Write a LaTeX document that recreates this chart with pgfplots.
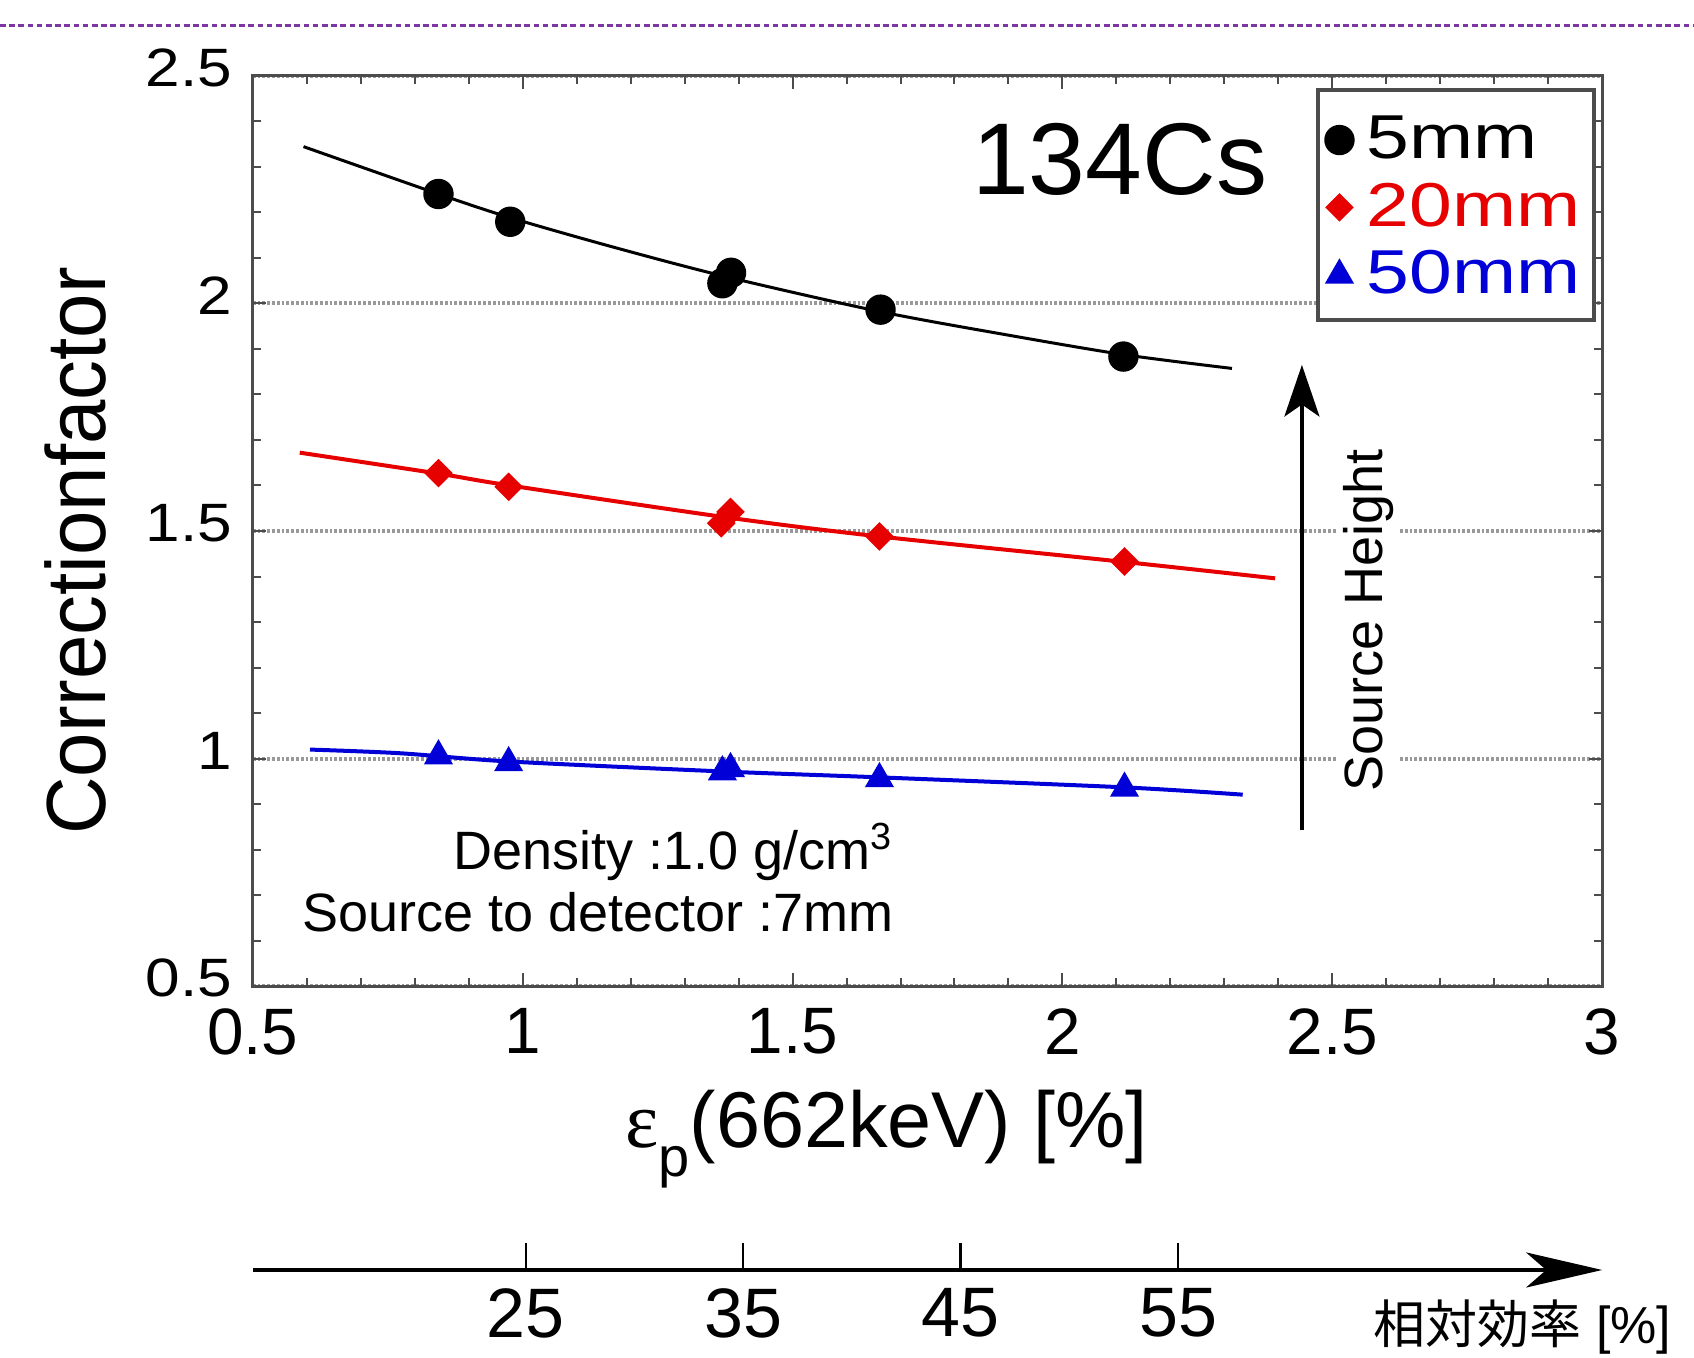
\documentclass[border=0pt]{standalone}
\usepackage{pgfplots}
\pgfplotsset{compat=1.18}
\usepackage{pgfplotstable}
\usepackage{graphicx}
\usepackage{fontspec}
\setmainfont{Liberation Sans}
\newfontfamily\cjkfont{Noto Sans CJK JP}
\newfontfamily\greekfont{Liberation Serif}
\usetikzlibrary{arrows.meta}

\definecolor{cfred}{RGB}{230,0,0}
\definecolor{cfblue}{RGB}{0,0,215}
\definecolor{cfpurple}{RGB}{125,55,165}
\newcommand{\fs}[1]{\fontsize{#1}{#1}\selectfont}

% Measured correction factors, x = peak efficiency at 662 keV [%]
\pgfplotstableread{
x     y
0.844 2.240
0.977 2.179
1.370 2.044
1.386 2.067
1.663 1.986
2.113 1.883
}\hfive
\pgfplotstableread{
x     y
0.844 1.627
0.974 1.597
1.368 1.517
1.385 1.542
1.661 1.488
2.115 1.433
}\htwenty
\pgfplotstableread{
x     y
0.844 1.006
0.974 0.991
1.370 0.971
1.385 0.978
1.661 0.956
2.115 0.935
}\hfifty

% Fitted curves
\pgfplotstableread{
x     y
0.594 2.344
0.844 2.240
0.977 2.188
1.169 2.123
1.378 2.058
1.661 1.982
1.900 1.930
2.115 1.887
2.314 1.857
}\fitfive
\pgfplotstableread{
x     y
0.587 1.672
0.844 1.626
0.976 1.600
1.377 1.530
1.661 1.488
2.115 1.432
2.394 1.396
}\fittwenty
\pgfplotstableread{
x     y
0.606 1.020
0.772 1.012
0.973 0.994
1.370 0.972
1.661 0.959
2.115 0.937
2.334 0.921
}\fitfifty

\begin{document}
\begin{tikzpicture}
\path[use as bounding box] (-63.2pt,-92.9pt) rectangle (360.3pt,246.6pt);
\clip (-63.2pt,-92.9pt) rectangle (360.3pt,246.6pt);

% dashed rule along the top
\draw[cfpurple, line width=0.6pt, dash pattern=on 1.4pt off 0.9pt] (-63.2pt,240.2pt) -- (360.3pt,240.2pt);

\begin{axis}[
  at={(0pt,0pt)}, anchor=south west,
  scale only axis, width=337.35pt, height=227.7pt,
  xmin=0.5, xmax=3, ymin=0.5, ymax=2.5,
  xtick={0.5,1,1.5,2,2.5,3}, ytick={0.5,1,1.5,2,2.5},
  minor x tick num=4, minor y tick num=4,
  tick align=inside,
  major tick length=3.4pt, minor tick length=2pt,
  axis line style={black!70, line width=0.7pt},
  every tick/.style={black!70, line width=0.5pt},
  ymajorgrids,
  major grid style={black!40, dash pattern=on 0.7pt off 0.5pt, line width=1pt},
  /pgf/number format/assume math mode=true,
  xticklabel style={font=\fs{16.4}, inner sep=0pt, anchor=north, yshift=-5.4pt},
  yticklabel={\scalebox{1.15}[1]{\pgfmathprintnumber{\tick}}},
  yticklabel style={font=\fs{13.5}, inner sep=0pt, anchor=east, xshift=-5pt, yshift=2pt},
  xlabel={{\greekfont ε}\raisebox{-7.3pt}{\fs{14}p}(662keV) [\%]},
  xlabel style={font=\fs{19.8}, at={(axis description cs:0.4696,-0.1766)}, anchor=base, inner sep=0pt},
  ylabel={\scalebox{0.95}[1]{Correctionfactor}},
  ylabel style={font=\fs{21}, at={(axis description cs:-0.1313,0.478)}, anchor=center, inner sep=0pt},
  legend style={at={(rel axis cs:0.7896,0.9845)}, anchor=north west, draw=none, fill=none,
    inner xsep=1.5pt, inner ysep=6.3pt, row sep=4.6pt, font=\fs{15.5},
    nodes={inner sep=0pt}, /tikz/every odd column/.style={column sep=3.2pt}},
  legend cell align=left,
  legend image code/.code={\draw[#1] plot coordinates {(3.6pt,0pt)};},
]
% legend frame
\draw[black!70, line width=1pt, fill=white] (rel axis cs:0.7896,0.732) rectangle (rel axis cs:0.9936,0.9845);

\addplot[black, line width=0.75pt, smooth, forget plot] table {\fitfive};
\addplot[cfred, line width=1pt, smooth, forget plot] table {\fittwenty};
\addplot[cfblue, line width=1pt, smooth, forget plot] table {\fitfifty};

\addplot[only marks, mark=*, mark size=3.6pt, black] table {\hfive};
\addlegendentry{\scalebox{1.24}[1]{5mm}}
\addplot[only marks, mark=square*, mark size=2.33pt, mark options={rotate=45}, cfred] table {\htwenty};
\addlegendentry{\textcolor{cfred}{\scalebox{1.24}[1]{20mm}}}
\addplot[only marks, mark=triangle*, mark size=3.8pt, cfblue] table {\hfifty};
\addlegendentry{\textcolor{cfblue}{\scalebox{1.24}[1]{50mm}}}

\node[font=\fs{25.5}] at (axis cs:2.106,2.315) {134Cs};
\node[font=\fs{13.5}, anchor=base east, inner sep=0pt] at (axis cs:1.689,0.7556) {Density :1.0 g/cm\textsuperscript{3}};
\node[font=\fs{13.5}, anchor=base east, inner sep=0pt] at (axis cs:1.689,0.620) {Source to detector :7mm};
\draw[-{Stealth[length=12.9pt,width=8.75pt,inset=3pt]}, line width=0.85pt]
  (axis cs:2.4437,0.843) -- (axis cs:2.4437,1.8647);
\node[rotate=90, anchor=base, fill=white, inner sep=1.5pt, font=\fs{13.5}] at (axis cs:2.5935,1.304) {Source Height};
\end{axis}

% relative efficiency scale
\begin{axis}[
  at={(0pt,-70.9pt)}, anchor=south west,
  scale only axis, width=337.35pt, height=20pt,
  xmin=12.45, xmax=74.5, ymin=0, ymax=1,
  axis x line=bottom, axis y line=none,
  x axis line style={line width=1pt, -{Stealth[length=19pt,width=8.75pt,inset=5pt]}},
  xtick={25,35,45,55}, xtick align=inside,
  major tick length=6.7pt,
  every tick/.style={black, line width=0.6pt},
  xticklabel style={font=\fs{17.5}, inner sep=0pt, anchor=north, yshift=-4.5pt},
  /pgf/number format/assume math mode=true,
]
\end{axis}

\node[anchor=base west, inner sep=0pt, font=\fs{13}] at (280pt,-89.3pt) {{\cjkfont 相対効率} [\%]};
\end{tikzpicture}
\end{document}
